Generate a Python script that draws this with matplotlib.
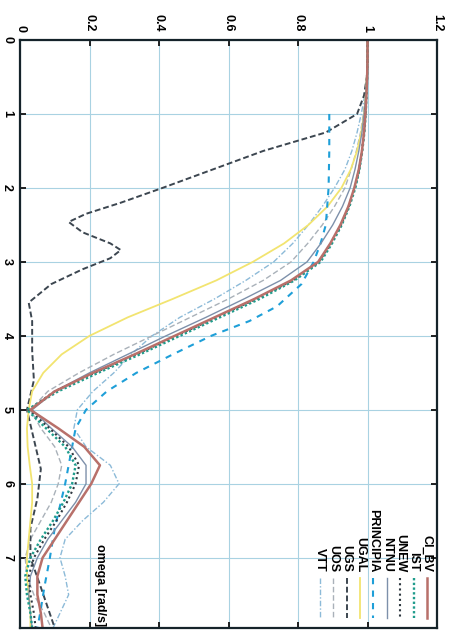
import matplotlib
matplotlib.use("Agg")
import matplotlib.pyplot as plt

plt.rcParams["font.family"] = ["Liberation Sans", "DejaVu Sans"]

# frequency grid shared by most of the curves
omega = [0, 0.25, 0.5, 0.75, 1.0, 1.25, 1.5, 1.75, 2.0, 2.25, 2.5, 2.75, 3.0, 3.25,
         3.5, 3.75, 4.0, 4.25, 4.5, 4.75, 5.0, 5.25, 5.5, 5.75, 6.0, 6.25, 6.5, 6.75,
         7.0, 7.25, 7.5, 7.75, 7.95]

ci_bv = [1.0, 1.0, 0.999, 0.997, 0.994, 0.99, 0.984, 0.975, 0.962, 0.945, 0.922, 0.893,
         0.858, 0.78, 0.675, 0.56, 0.445, 0.33, 0.21, 0.10, 0.03, 0.11, 0.185, 0.23,
         0.205, 0.17, 0.135, 0.10, 0.065, 0.05, 0.05, 0.06, 0.065]
ist = [1.0, 1.0, 0.999, 0.997, 0.995, 0.991, 0.985, 0.977, 0.965, 0.948, 0.926, 0.898,
       0.865, 0.79, 0.69, 0.575, 0.46, 0.345, 0.225, 0.11, 0.02, 0.075, 0.13, 0.16,
       0.15, 0.125, 0.095, 0.06, 0.03, 0.015, 0.02, 0.03, 0.035]
unew = [1.0, 1.0, 0.999, 0.997, 0.994, 0.99, 0.984, 0.976, 0.963, 0.946, 0.924, 0.895,
        0.86, 0.785, 0.68, 0.565, 0.45, 0.335, 0.215, 0.10, 0.025, 0.085, 0.14, 0.17,
        0.16, 0.135, 0.105, 0.07, 0.04, 0.025, 0.03, 0.04, 0.045]
ntnu = [1.0, 1.0, 0.998, 0.995, 0.99, 0.984, 0.975, 0.964, 0.95, 0.928, 0.9, 0.866,
        0.826, 0.75, 0.645, 0.535, 0.42, 0.31, 0.2, 0.1, 0.035, 0.09, 0.15, 0.19,
        0.19, 0.16, 0.12, 0.08, 0.05, 0.03, 0.025, 0.03, 0.035]
ugal = [1.0, 1.0, 0.998, 0.995, 0.99, 0.982, 0.97, 0.952, 0.925, 0.885, 0.83, 0.76,
        0.67, 0.565, 0.44, 0.31, 0.2, 0.12, 0.067, 0.035, 0.025, 0.02, 0.022, 0.028,
        0.035, 0.035, 0.03, 0.025, 0.02, 0.02, 0.025, 0.03, 0.03]
uos = [1.0, 1.0, 0.998, 0.994, 0.988, 0.98, 0.968, 0.953, 0.935, 0.905, 0.87, 0.828,
       0.78, 0.70, 0.60, 0.49, 0.38, 0.27, 0.17, 0.08, 0.03, 0.06, 0.10, 0.12,
       0.11, 0.09, 0.06, 0.03, 0.015, 0.02, 0.04, 0.07, 0.09]
vtt = [1.0, 1.0, 0.998, 0.992, 0.982, 0.97, 0.955, 0.935, 0.905, 0.87, 0.83, 0.785,
       0.73, 0.65, 0.56, 0.46, 0.38, 0.32, 0.27, 0.21, 0.165, 0.155, 0.19, 0.26,
       0.285, 0.24, 0.18, 0.13, 0.115, 0.13, 0.14, 0.115, 0.095]

ugs_omega = [0, 0.25, 0.5, 0.75, 1.0, 1.25, 1.5, 1.75, 2.0, 2.2, 2.35, 2.46, 2.6, 2.75,
             2.84, 2.95, 3.1, 3.3, 3.55, 3.8, 4.2, 4.6, 5.0, 5.4, 5.8, 6.2, 6.6, 7.0,
             7.4, 7.95]
ugs = [1.0, 1.0, 0.998, 0.99, 0.97, 0.88, 0.70, 0.555, 0.41, 0.29, 0.19, 0.14, 0.18,
       0.26, 0.29, 0.26, 0.18, 0.09, 0.025, 0.035, 0.035, 0.04, 0.02, 0.04, 0.06,
       0.05, 0.03, 0.03, 0.06, 0.1]

principia_omega = [1.0, 1.5, 2.0, 2.5, 2.75, 3.0, 3.3, 3.6, 3.8, 4.0, 4.25, 4.5, 4.75,
                   5.0, 5.25, 5.5, 5.75, 6.0, 6.3, 6.6, 7.0, 7.4, 7.75, 7.95]
principia = [0.89, 0.89, 0.888, 0.88, 0.865, 0.845, 0.81, 0.74, 0.66, 0.55, 0.44,
             0.335, 0.25, 0.19, 0.16, 0.15, 0.14, 0.13, 0.115, 0.10, 0.086, 0.07,
             0.058, 0.05]

value_ticks = [0, 0.2, 0.4, 0.6, 0.8, 1.0, 1.2]
value_labels = ["0", "0.2", "0.4", "0.6", "0.8", "1", "1.2"]
omega_ticks = [0, 1, 2, 3, 4, 5, 6, 7]
omega_labels = ["0", "1", "2", "3", "4", "5", "6", "7"]

# name, x data, y data, colour, linestyle, linewidth
series = [
    ("CI_BV", omega, ci_bv, "#b8706a", "-", 1.8),
    ("IST", omega, ist, "#1f9c8c", (0, (1, 1)), 1.7),
    ("UNEW", omega, unew, "#2e3840", (0, (1, 1.5)), 1.5),
    ("NTNU", omega, ntnu, "#7d90aa", "-", 1.0),
    ("PRINCIPIA", principia_omega, principia, "#1e9fd8", (0, (3, 3)), 1.5),
    ("UGAL", omega, ugal, "#f2e470", "-", 1.3),
    ("UGS", ugs_omega, ugs, "#3c4650", (0, (3, 1.5)), 1.4),
    ("UOS", omega, uos, "#a9b1b9", (0, (4, 2)), 1.0),
    ("VTT", omega, vtt, "#8cbad8", (0, (4, 1.5, 1, 1.5)), 1.0),
]

fig = plt.figure(figsize=(4.54, 6.31), dpi=100)
ax = fig.add_axes([20 / 454, 1 - 628 / 631, 417 / 454, 588 / 631])

# the plot is turned a quarter turn: response runs across, omega runs down
for name, w, v, c, ls, lw in reversed(series):
    ax.plot(v, w, color=c, linestyle=ls, linewidth=lw)

ax.set_xlim(0, 1.2)
ax.set_ylim(7.95, 0)
ax.grid(True, color="#a9d2e2", linewidth=0.8)
ax.set_axisbelow(True)

ax.xaxis.tick_top()
ax.set_xticks(value_ticks)
ax.set_xticklabels(value_labels, rotation=-90, fontsize=9, fontweight="bold")
ax.set_yticks(omega_ticks)
ax.set_yticklabels(omega_labels, rotation=-90, fontsize=9, fontweight="bold", va="center")
ax.tick_params(axis="both", direction="in", length=4, width=1.3, color="#111111",
               top=True, bottom=True, left=True, right=True,
               labeltop=True, labelbottom=False)
ax.tick_params(axis="x", pad=6)
ax.tick_params(axis="y", pad=5)
for sp in ax.spines.values():
    sp.set_linewidth(1.6)
    sp.set_color("#15232a")

ax.text((100 - 20) / 417, 0.003, "omega [rad/s]", transform=ax.transAxes,
        rotation=-90, ha="center", va="bottom", fontsize=9, fontweight="bold")

# key: one column per series, label above its line sample
for i, (name, w, v, c, ls, lw) in enumerate(series):
    xa = (427 - 13.4 * i - 20) / 417
    ax.text(xa, (628 - 572) / 588, name, transform=ax.transAxes, rotation=-90,
            ha="center", va="bottom", fontsize=9, fontweight="bold")
    ax.plot([xa, xa], [(628 - 578) / 588, (628 - 618) / 588], transform=ax.transAxes,
            color=c, linestyle=ls, linewidth=lw)

fig.savefig("out.png", dpi=100)
